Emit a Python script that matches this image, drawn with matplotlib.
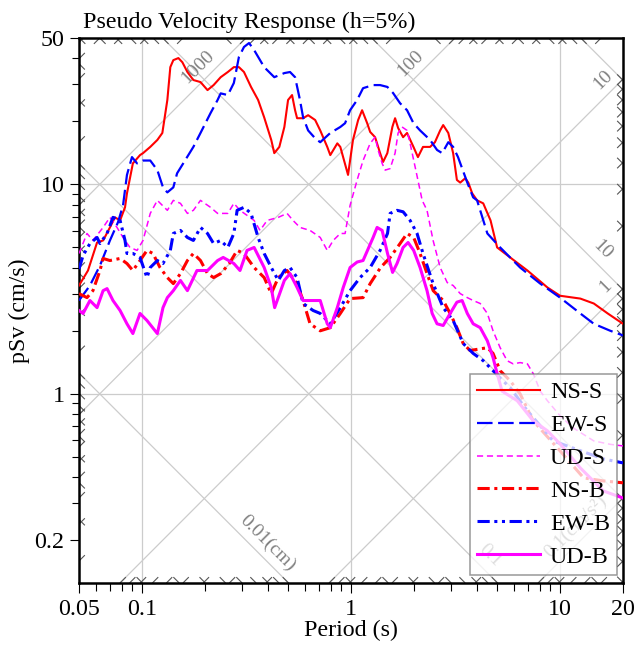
import numpy as np
import matplotlib
matplotlib.use("Agg")
import matplotlib.pyplot as plt
from matplotlib.collections import LineCollection

plt.rcParams['font.family'] = ['Liberation Serif', 'DejaVu Serif']

# ---- response spectra (period s, pSv cm/s) ----
ns_s_period = [0.05, 0.0552, 0.061, 0.0652, 0.0703, 0.0743, 0.0786, 0.083, 0.0848, 0.0905,
               0.0979, 0.1012, 0.1096, 0.1185, 0.1252, 0.1323, 0.1367, 0.1413, 0.1494, 0.1561,
               0.165, 0.1762, 0.1906, 0.2059, 0.2202, 0.2381, 0.2575, 0.2752, 0.291, 0.3077,
               0.3325, 0.3595, 0.3843, 0.4155, 0.4296, 0.4541, 0.48, 0.5, 0.5225, 0.5401,
               0.5522, 0.59, 0.6236, 0.6738, 0.7126, 0.7699, 0.796, 0.86, 0.889, 0.917,
               0.968, 1.022, 1.082, 1.13, 1.195, 1.235, 1.304, 1.378, 1.424, 1.492,
               1.577, 1.625, 1.68, 1.775, 1.854, 1.99, 2.09, 2.21, 2.39, 2.52,
               2.67, 2.76, 2.92, 3.08, 3.21, 3.33, 3.52, 3.64, 3.8, 4.01,
               4.29, 4.65, 5.0, 5.77, 6.98, 8.7, 10.0, 12.5, 14.5, 16.9, 20.0]
ns_s_psv = [3.29, 3.88, 5.28, 5.40, 6.23, 6.96, 6.73, 7.77, 9.06, 12.6,
            13.8, 14.1, 15.1, 16.3, 17.6, 25.3, 36.3, 39.2, 40.1, 38.3,
            34.4, 31.5, 30.8, 28.2, 29.8, 32.5, 34.4, 36.3, 36.3, 34.4,
            29.2, 25.3, 20.9, 16.3, 14.1, 15.1, 18.8, 25.3, 26.7, 22.6,
            20.7, 20.7, 21.4, 20.3, 18.1, 15.1, 13.8, 15.7, 15.1, 13.5,
            11.1, 16.3, 20.3, 22.6, 19.6, 17.8, 16.8, 14.1, 12.8, 14.1,
            18.8, 20.7, 18.6, 16.8, 17.6, 15.1, 13.5, 15.1, 15.1, 15.9,
            18.1, 19.2, 17.6, 14.1, 10.5, 10.2, 10.7, 10.2, 9.06, 8.39,
            8.12, 6.73, 5.0, 4.48, 3.88, 3.22, 2.94, 2.85, 2.70, 2.42, 2.16]

ew_s_period = [0.05, 0.0564, 0.063, 0.0703, 0.0768, 0.0812, 0.0848, 0.0896, 0.0948, 0.1012,
               0.1096, 0.1185, 0.1261, 0.1323, 0.1413, 0.1473, 0.1576, 0.1762, 0.1906, 0.2129,
               0.2301, 0.2381, 0.2575, 0.2752, 0.291, 0.3077, 0.3253, 0.344, 0.3843, 0.4296,
               0.48, 0.511, 0.5401, 0.570, 0.590, 0.6236, 0.6738, 0.7126, 0.796, 0.889,
               0.937, 0.99, 1.07, 1.142, 1.276, 1.378, 1.492, 1.59, 1.717, 1.854,
               1.99, 2.14, 2.39, 2.58, 2.73, 2.92, 3.08, 3.25, 3.6, 3.84,
               4.01, 4.49, 5.17, 6.44, 8.04, 10.0, 12.5, 14.5, 17.4, 20.0]
ew_s_psv = [2.79, 3.29, 4.10, 5.40, 6.59, 7.94, 11.1, 13.5, 12.6, 13.0,
            13.0, 11.7, 9.68, 9.16, 9.68, 11.3, 12.6, 15.1, 17.6, 21.9,
            25.3, 27.2, 26.7, 30.5, 40.6, 45.3, 47.3, 43.8, 36.3, 32.5,
            34.0, 34.4, 32.5, 25.3, 20.9, 18.1, 16.6, 15.9, 17.6, 18.8,
            19.6, 22.6, 25.3, 28.8, 29.8, 29.8, 29.2, 27.3, 24.4, 22.6,
            19.6, 18.1, 16.3, 14.6, 14.1, 15.9, 15.1, 13.5, 10.2, 8.67,
            8.39, 5.83, 5.0, 4.01, 3.36, 2.88, 2.42, 2.16, 2.0, 1.90]

ud_s_period = [0.05, 0.0546, 0.0583, 0.0652, 0.0703, 0.076, 0.0812, 0.0876, 0.0948, 0.1012,
               0.1096, 0.1185, 0.1323, 0.1413, 0.1528, 0.165, 0.1762, 0.1906, 0.2129, 0.2301,
               0.2575, 0.2752, 0.2945, 0.344, 0.3672, 0.397, 0.449, 0.4945, 0.528, 0.570,
               0.637, 0.7126, 0.7699, 0.822, 0.889, 0.937, 0.99, 1.07, 1.142, 1.235,
               1.304, 1.348, 1.409, 1.457, 1.539, 1.625, 1.68, 1.755, 1.854, 1.917,
               2.027, 2.14, 2.19, 2.31, 2.47, 2.67, 2.885, 3.08, 3.33, 3.6,
               3.84, 4.15, 4.49, 4.78, 5.17, 5.58, 5.97, 6.44, 6.98, 7.44,
               8.04, 8.7, 10.0, 11.55, 14.5, 17.4, 20.0]
ud_s_psv = [4.68, 5.83, 5.40, 6.23, 6.96, 6.23, 5.58, 5.0, 4.84, 5.40,
            7.27, 8.39, 7.52, 8.39, 8.12, 7.27, 7.52, 8.39, 7.77, 7.27,
            7.27, 8.12, 7.52, 6.73, 6.03, 6.73, 6.96, 7.27, 6.73, 6.23,
            6.03, 5.58, 4.84, 5.40, 5.83, 5.83, 7.94, 10.5, 13.0, 15.7,
            16.8, 14.6, 12.6, 11.7, 11.9, 14.1, 17.6, 18.8, 18.1, 15.7,
            12.1, 9.37, 8.39, 7.52, 5.40, 4.01, 3.40, 3.29, 3.01, 2.88,
            2.79, 2.70, 2.42, 2.0, 1.66, 1.44, 1.39, 1.41, 1.39, 1.25,
            1.03, 0.927, 0.786, 0.688, 0.596, 0.574, 0.564]

ns_b_period = [0.05, 0.0546, 0.0583, 0.063, 0.0652, 0.0703, 0.0786, 0.0848, 0.0905, 0.0979,
               0.1057, 0.1129, 0.122, 0.1323, 0.1413, 0.1528, 0.165, 0.1762, 0.1906, 0.2059,
               0.2202, 0.2381, 0.2617, 0.2853, 0.3077, 0.344, 0.3843, 0.4155, 0.449, 0.4945,
               0.5522, 0.59, 0.637, 0.7126, 0.796, 0.889, 0.99, 1.142, 1.235, 1.385,
               1.539, 1.717, 1.854, 1.994, 2.14, 2.311, 2.472, 2.76, 2.98, 3.21,
               3.44, 3.71, 4.15, 4.49, 4.78, 5.17, 5.77, 6.44, 7.44, 10.0,
               12.96, 16.1, 20.0]
ns_b_psv = [3.01, 2.88, 3.11, 3.88, 4.43, 4.33, 4.43, 4.19, 3.88, 4.33,
            4.84, 4.68, 4.01, 3.59, 3.36, 3.75, 4.33, 4.68, 4.33, 3.75,
            3.59, 3.75, 4.19, 4.84, 4.68, 4.01, 3.59, 3.01, 3.59, 3.88,
            3.36, 2.79, 2.16, 2.0, 2.07, 2.42, 2.85, 2.88, 3.36, 4.01,
            4.48, 5.22, 5.83, 5.58, 4.68, 3.75, 3.11, 2.79, 2.42, 2.07,
            1.74, 1.61, 1.64, 1.66, 1.56, 1.29, 1.155, 1.0, 0.743, 0.534,
            0.397, 0.384, 0.376]

ew_b_period = [0.05, 0.0523, 0.0564, 0.061, 0.063, 0.0681, 0.0727, 0.0786, 0.083, 0.0848,
               0.0905, 0.0979, 0.1057, 0.1096, 0.1185, 0.1261, 0.1367, 0.1413, 0.1528, 0.165,
               0.1762, 0.1906, 0.2059, 0.2202, 0.2381, 0.2575, 0.2752, 0.2853, 0.3077, 0.3325,
               0.3595, 0.3843, 0.4155, 0.449, 0.48, 0.511, 0.5522, 0.59, 0.659, 0.7126,
               0.796, 0.889, 0.99, 1.105, 1.235, 1.378, 1.495, 1.539, 1.66, 1.775,
               1.917, 2.07, 2.21, 2.47, 2.76, 3.08, 3.44, 3.84, 4.29, 4.78,
               5.17, 5.77, 6.98, 9.27, 16.1, 20.0]
ew_b_psv = [3.94, 4.58, 5.22, 5.58, 5.22, 5.83, 6.96, 6.73, 5.40, 4.68,
            4.68, 4.48, 3.59, 4.01, 4.33, 4.19, 4.84, 5.83, 6.03, 5.58,
            5.40, 6.23, 5.83, 5.22, 5.40, 5.0, 5.83, 7.52, 7.77, 7.27,
            5.58, 4.68, 4.01, 3.48, 3.88, 4.01, 3.59, 2.70, 2.50, 2.42,
            2.16, 2.58, 3.11, 3.59, 4.01, 4.84, 5.83, 7.27, 7.52, 7.40,
            6.73, 5.83, 4.68, 3.36, 2.58, 2.24, 1.74, 1.56, 1.44, 1.29,
            1.19, 1.07, 0.83, 0.596, 0.489, 0.468]

ud_b_period = [0.05, 0.0523, 0.0564, 0.061, 0.0652, 0.0681, 0.0727, 0.0786, 0.0848, 0.0905,
               0.0979, 0.1057, 0.1185, 0.1261, 0.1323, 0.1413, 0.1528, 0.165, 0.1833, 0.2059,
               0.2301, 0.2447, 0.2752, 0.2945, 0.3183, 0.344, 0.3843, 0.4155, 0.4313, 0.48,
               0.511, 0.5522, 0.59, 0.659, 0.7126, 0.7699, 0.796, 0.86, 0.918, 0.99,
               1.07, 1.142, 1.276, 1.333, 1.409, 1.495, 1.581, 1.66, 1.775, 1.875,
               1.994, 2.14, 2.31, 2.445, 2.58, 2.76, 2.98, 3.21, 3.40, 3.60,
               3.84, 4.15, 4.49, 4.78, 5.0, 5.28, 6.24, 7.44, 8.70, 10.0,
               12.5, 16.1, 20.0]
ud_b_psv = [2.50, 2.42, 2.79, 2.58, 3.11, 3.18, 2.79, 2.50, 2.16, 1.94,
            2.42, 2.24, 1.94, 2.58, 2.88, 3.11, 3.48, 3.11, 3.88, 3.88,
            4.33, 4.48, 4.19, 3.88, 4.84, 5.0, 4.01, 3.22, 2.58, 3.48,
            3.75, 3.22, 2.79, 2.79, 2.79, 2.16, 2.07, 2.58, 3.22, 4.01,
            4.26, 4.33, 5.58, 6.23, 6.03, 4.68, 3.80, 4.19, 5.0, 5.28,
            4.84, 4.01, 3.11, 2.42, 2.16, 2.12, 2.42, 2.74, 2.79, 2.42,
            2.16, 2.07, 1.79, 1.49, 1.25, 1.03, 0.927, 0.743, 0.666, 0.577,
            0.443, 0.344, 0.318]

# ---- tripartite grid ----
disp_lines = [0.001, 0.01, 0.1, 1, 10, 100]        # cm
acc_lines = [0.1, 1, 10, 100, 1000]                # cm/s^2
# (value, text, period where label sits on the line)
acc_labels = [(1000, '1000', 0.206), (100, '100', 2.14), (10, '10', 17.9),
              (1, '1', 18.4), (0.1, '0.1(cm/s²)', 13.2)]
disp_labels = [(0.01, '0.01(cm)', 0.36), (0.1, '0.1', 4.15), (10, '10', 14.3)]

x_ticks = [0.05, 0.1, 1, 10, 20]
x_ticklabels = ['0.05', '0.1', '1', '10', '20']
y_ticks = [0.2, 1, 10, 50]
y_ticklabels = ['0.2', '1', '10', '50']
x_grid = [0.1, 1, 10]
y_grid = [1, 10]
xlim = (0.05, 20)
ylim = (0.125, 50)

TWO_PI = 2 * np.pi
GRID_C = '#cccccc'
LABEL_C = '#808080'
FS = 17.3

fig = plt.figure(figsize=(6.37, 6.51), dpi=100)
ax = fig.add_axes([79 / 637, 68 / 651, 544 / 637, 545 / 651])
ax.set_xscale('log')
ax.set_yscale('log')

for v in x_grid:
    ax.axvline(v, color=GRID_C, lw=0.9, zorder=1)
for v in y_grid:
    ax.axhline(v, color=GRID_C, lw=0.9, zorder=1)

t_line = np.array([1e-3, 1e3])
for sd in disp_lines:
    ax.plot(t_line, TWO_PI * sd / t_line, color=GRID_C, lw=0.9, zorder=1)
for sa in acc_lines:
    ax.plot(t_line, sa * t_line / TWO_PI, color=GRID_C, lw=0.9, zorder=1)

# short diagonal ticks where minor displacement / acceleration lines meet the frame
lx0, lx1 = np.log10(xlim)
ly0, ly1 = np.log10(ylim)
d = 0.028
segs = []
for n in range(-4, 5):
    for k in range(1, 10):
        v = k * 10.0 ** n
        cd = np.log10(TWO_PI * v)   # log S = cd - log T
        ca = np.log10(v / TWO_PI)   # log S = ca + log T
        cand = [
            (lx0, cd - lx0, d, -d), (lx0, ca + lx0, d, d),
            (lx1, cd - lx1, -d, d), (lx1, ca + lx1, -d, -d),
            (cd - ly1, ly1, d, -d), (ly1 - ca, ly1, -d, -d),
            (cd - ly0, ly0, -d, d), (ly0 - ca, ly0, d, d),
        ]
        for x0, y0, dx, dy in cand:
            if lx0 - 1e-9 <= x0 <= lx1 + 1e-9 and ly0 - 1e-9 <= y0 <= ly1 + 1e-9:
                segs.append([(10 ** x0, 10 ** y0), (10 ** (x0 + dx), 10 ** (y0 + dy))])
ax.add_collection(LineCollection(segs, colors='#555555', linewidths=0.8, zorder=2))

for sa, txt, t in acc_labels:
    ax.annotate(txt, xy=(t, sa * t / TWO_PI), xytext=(-7, 7), textcoords='offset points',
                rotation=45, rotation_mode='anchor', ha='center', va='center',
                color=LABEL_C, fontsize=14, zorder=1.5)
for sd, txt, t in disp_labels:
    ax.annotate(txt, xy=(t, TWO_PI * sd / t), xytext=(7, 7), textcoords='offset points',
                rotation=-45, rotation_mode='anchor', ha='center', va='center',
                color=LABEL_C, fontsize=14, zorder=1.5)

# ---- spectra ----
ax.plot(ns_s_period, ns_s_psv, color='#ff0000', lw=1.5, label='NS-S', zorder=3)
ax.plot(ew_s_period, ew_s_psv, color='#0000ff', lw=1.6, ls=(0, (7, 2.5)), label='EW-S', zorder=3)
ax.plot(ud_s_period, ud_s_psv, color='#ff00ff', lw=1.1, ls=(0, (4, 2.5)), label='UD-S', zorder=3)
ax.plot(ns_b_period, ns_b_psv, color='#ff0000', lw=2.2, ls=(0, (4, 1.5, 1, 1.5)), label='NS-B', zorder=3)
ax.plot(ew_b_period, ew_b_psv, color='#0000ff', lw=2.2, ls=(0, (4, 1.5, 1, 1.5, 1, 1.5)), label='EW-B', zorder=3)
ax.plot(ud_b_period, ud_b_psv, color='#ff00ff', lw=2.2, label='UD-B', zorder=3)

ax.set_xlim(xlim)
ax.set_ylim(ylim)

ax.set_xticks(x_ticks)
ax.set_xticklabels(x_ticklabels)
ax.set_yticks(y_ticks)
ax.set_yticklabels(y_ticklabels)
x_minor = [k * 10.0 ** n for n in range(-2, 2) for k in range(1, 10)
           if xlim[0] < k * 10.0 ** n < xlim[1] and k * 10.0 ** n not in x_ticks]
y_minor = [k * 10.0 ** n for n in range(-1, 2) for k in range(1, 10)
           if ylim[0] < k * 10.0 ** n < ylim[1] and k * 10.0 ** n not in y_ticks]
ax.set_xticks(x_minor, minor=True)
ax.set_yticks(y_minor, minor=True)
ax.xaxis.set_minor_formatter(plt.NullFormatter())
ax.yaxis.set_minor_formatter(plt.NullFormatter())
ax.tick_params(which='major', axis='x', length=7.5, width=0.8, pad=4, labelsize=FS)
ax.tick_params(which='minor', axis='x', length=5.5, width=0.8)
ax.tick_params(which='major', axis='y', length=6.5, width=0.8, pad=4, labelsize=FS)
ax.tick_params(which='minor', axis='y', length=5, width=0.8)
for sp in ax.spines.values():
    sp.set_linewidth(1.8)

ax.set_xlabel('Period (s)', fontsize=FS, labelpad=0)
ax.set_ylabel('pSv (cm/s)', fontsize=FS, labelpad=3)
ax.annotate('Pseudo Velocity Response (h=5%)', xy=(0, 1), xycoords='axes fraction',
            xytext=(3, 7), textcoords='offset points', ha='left', va='baseline',
            fontsize=FS)

leg = ax.legend(loc='lower right', bbox_to_anchor=(0.989, 0.015), borderaxespad=0,
                fontsize=FS, handlelength=2.6, handletextpad=0.42, labelspacing=0.46,
                borderpad=0.3, fancybox=False, framealpha=0.75, edgecolor='#777777')
leg.get_frame().set_linewidth(1.1)
leg.set_zorder(5)

fig.savefig('out.png', dpi=100)
